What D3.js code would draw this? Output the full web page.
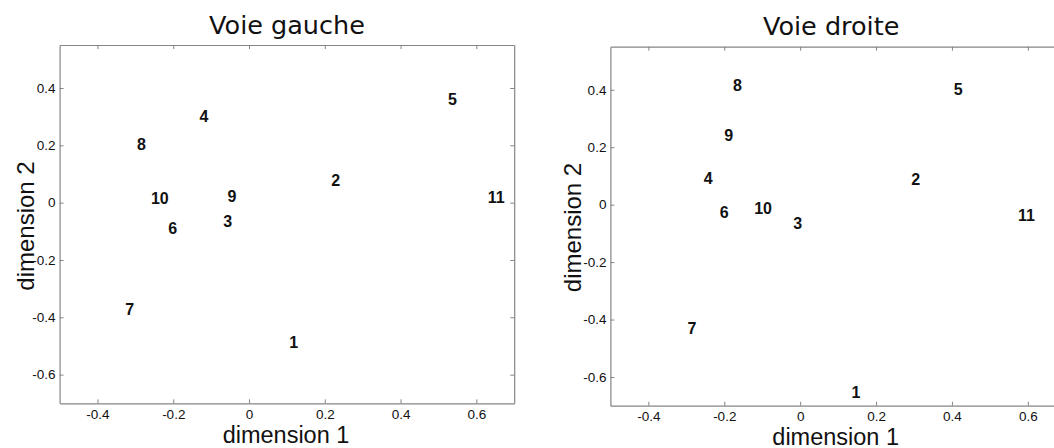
<!DOCTYPE html>
<html>
<head>
<meta charset="utf-8">
<script src="https://cdn.jsdelivr.net/npm/d3@7"></script>
<style>
  html, body { margin: 0; padding: 0; background: #fff; }
  svg { display: block; }
</style>
</head>
<body>
<svg id="chart" width="1054" height="448"></svg>
<script>
// ---- Data ----
const pointLabels = ["1","2","3","4","5","6","7","8","9","10","11"];
const leftDim1  = [0.106, 0.217, -0.068, -0.131, 0.525, -0.213, -0.327, -0.296, -0.057, -0.259, 0.630];
const leftDim2  = [-0.487, 0.078, -0.064, 0.302, 0.361, -0.089, -0.373, 0.203, 0.022, 0.017, 0.020];
const rightDim1 = [0.135, 0.293, -0.018, -0.254, 0.405, -0.212, -0.297, -0.177, -0.200, -0.121, 0.574];
const rightDim2 = [-0.653, 0.088, -0.066, 0.091, 0.401, -0.026, -0.430, 0.416, 0.242, -0.013, -0.037];
const xTicks = [-0.4, -0.2, 0, 0.2, 0.4, 0.6];
const yTicks = [0.4, 0.2, 0, -0.2, -0.4, -0.6];
const xDomain = [-0.5, 0.7];
const yDomain = [-0.7, 0.55];
const titles = ["Voie gauche", "Voie droite"];
const xLabel = "dimension 1";
const yLabel = "dimension 2";

const svg = d3.select("#chart");
svg.append("rect").attr("width", 1054).attr("height", 448).attr("fill", "#fff");

const panels = [
  { title: titles[0], xs: leftDim1, ys: leftDim2, box: { l: 59.6, r: 514.2, t: 45, b: 403.3 },
    titleX: 287, titleY: 33.5, xLabX: 286, xLabY: 443, yLabX: 33.5, yLabY: 226 },
  { title: titles[1], xs: rightDim1, ys: rightDim2, box: { l: 610.4, r: 1065.8, t: 46.7, b: 405.7 },
    titleX: 831.2, titleY: 34.5, xLabX: 835.7, xLabY: 444.5, yLabX: 580.5, yLabY: 227.5 }
];

const fmt = v => (v === 0 ? "0" : d3.format(".1f")(v).replace("\u2212", "-"));
const boxColor = "#858585";

panels.forEach(p => {
  const b = p.box;
  const x = d3.scaleLinear().domain(xDomain).range([b.l, b.r]);
  const y = d3.scaleLinear().domain(yDomain).range([b.b, b.t]);
  const g = svg.append("g");

  const axB = g.append("g").attr("transform", `translate(0,${b.b})`)
    .call(d3.axisBottom(x).tickValues(xTicks).tickFormat(fmt).tickSizeInner(-4).tickSizeOuter(0).tickPadding(6));
  const axT = g.append("g").attr("transform", `translate(0,${b.t})`)
    .call(d3.axisTop(x).tickValues(xTicks).tickFormat("").tickSizeInner(-4).tickSizeOuter(0));
  const axL = g.append("g").attr("transform", `translate(${b.l},0)`)
    .call(d3.axisLeft(y).tickValues(yTicks).tickFormat(fmt).tickSizeInner(-4).tickSizeOuter(0).tickPadding(4));
  const axR = g.append("g").attr("transform", `translate(${b.r},0)`)
    .call(d3.axisRight(y).tickValues(yTicks).tickFormat("").tickSizeInner(-4).tickSizeOuter(0));

  [axB, axT, axL, axR].forEach(a => {
    a.select(".domain").attr("stroke", boxColor).attr("stroke-width", 1.2);
    a.selectAll(".tick line").attr("stroke", boxColor).attr("stroke-width", 1);
    a.selectAll(".tick text").attr("fill", "#111")
      .style("font-family", "'Liberation Sans', Arial, sans-serif").style("font-size", "13.5px");
  });

  g.append("text").attr("x", p.titleX).attr("y", p.titleY)
    .attr("text-anchor", "middle")
    .style("font-family", "'DejaVu Sans', sans-serif").style("font-size", "25.5px").attr("fill", "#111")
    .text(p.title);
  g.append("text").attr("x", p.xLabX).attr("y", p.xLabY)
    .attr("text-anchor", "middle")
    .style("font-family", "'Liberation Sans', Arial, sans-serif").style("font-size", "23.5px").attr("fill", "#111")
    .text(xLabel);
  g.append("text").attr("transform", `translate(${p.yLabX},${p.yLabY}) rotate(-90)`)
    .attr("text-anchor", "middle")
    .style("font-family", "'Liberation Sans', Arial, sans-serif").style("font-size", "24px").attr("fill", "#111")
    .text(yLabel);

  g.selectAll("text.pt").data(pointLabels).enter().append("text")
    .attr("class", "pt")
    .attr("x", (d, i) => x(p.xs[i]))
    .attr("y", (d, i) => y(p.ys[i]))
    .attr("dy", "0.36em")
    .style("font-family", "'Liberation Sans', Arial, sans-serif").style("font-size", "16px")
    .style("font-weight", "bold").attr("fill", "#111")
    .text(d => d);
});
</script>
</body>
</html>
